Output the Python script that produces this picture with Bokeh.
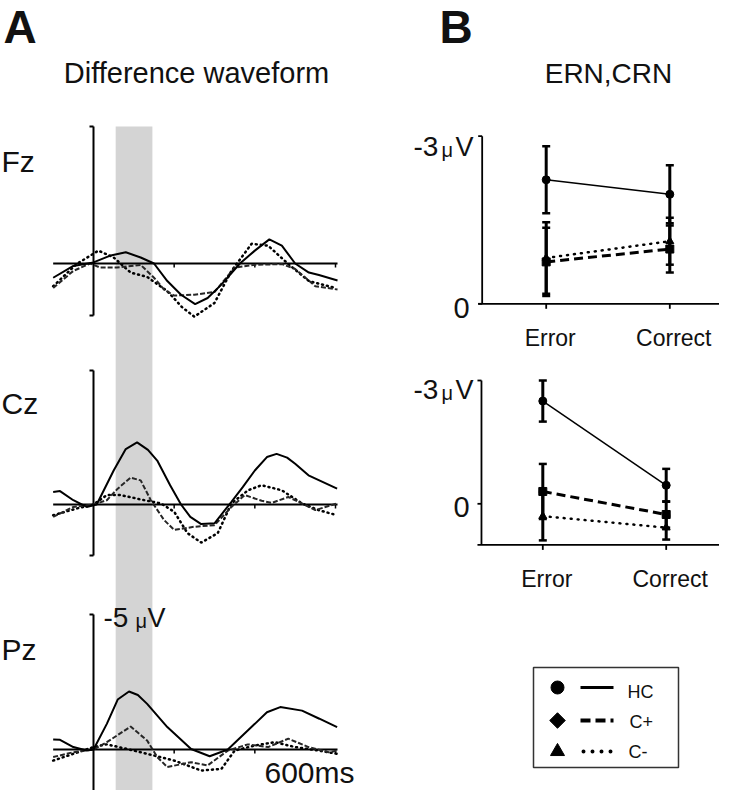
from bokeh.plotting import figure
from bokeh.models import Range1d
from bokeh.core.properties import value
from bokeh.embed import file_html
from bokeh.resources import INLINE
import math

# ---------------- data ----------------
# Panel A: difference waveforms (uV, negative plotted upward), time in ms
fz_hc_t = [-100, -50, 0, 40, 80, 117, 150, 183, 217, 252, 283, 317, 363, 400, 436, 467, 500, 534, 559, 605]
fz_hc_v = [0.52, 0.09, -0.04, -0.28, -0.41, -0.22, 0.0, 0.64, 1.14, 1.48, 1.26, 0.77, 0.0, -0.47, -0.88, -0.65, 0.0, 0.33, 0.42, 0.62]
fz_cp_t = [-100, -50, -8, 17, 58, 117, 150, 175, 200, 250, 300, 350, 400, 467, 500, 550, 605]
fz_cp_v = [0.89, 0.27, 0.0, 0.15, 0.15, 0.05, 0.52, 0.95, 1.17, 1.14, 1.04, 0.15, 0.05, 0.02, 0.2, 0.83, 0.95]
fz_cm_t = [-100, -42, 12, 50, 92, 133, 183, 220, 250, 300, 342, 392, 433, 483, 534, 600]
fz_cm_v = [0.83, 0.02, -0.47, -0.22, 0.33, 0.49, 1.01, 1.6, 1.94, 1.44, 0.27, -0.72, -0.65, 0.02, 0.64, 0.89]

cz_hc_t = [-100, -83, -50, -17, 8, 50, 80, 108, 135, 158, 190, 217, 240, 267, 300, 342, 370, 400, 430, 454, 480, 500, 533, 604]
cz_hc_v = [-0.47, -0.5, -0.16, 0.09, 0.0, -1.27, -2.07, -2.32, -2.04, -1.64, -0.72, 0.0, 0.46, 0.73, 0.70, -0.1, -0.65, -1.27, -1.77, -1.89, -1.75, -1.52, -1.09, -0.59]
cz_cp_t = [-100, -50, 0, 33, 60, 92, 117, 142, 175, 200, 250, 300, 342, 375, 417, 442, 483, 517, 550, 604]
cz_cp_v = [0.46, 0.09, 0.0, -0.16, -0.59, -1.0, -0.9, -0.16, 0.58, 0.95, 0.83, 0.77, 0.09, -0.35, -0.14, -0.06, -0.28, -0.04, 0.21, -0.04]
cz_cm_t = [-100, -42, 0, 33, 67, 117, 167, 200, 233, 267, 308, 342, 383, 417, 467, 517, 558, 604]
cz_cm_v = [0.4, 0.15, 0.0, -0.35, -0.35, -0.19, -0.04, 0.27, 1.07, 1.42, 1.07, -0.04, -0.53, -0.72, -0.53, -0.04, 0.21, 0.4]

pz_hc_t = [-100, -83, -50, -17, 0, 33, 60, 88, 110, 133, 183, 242, 288, 333, 400, 430, 463, 517, 560, 604]
pz_hc_v = [-0.37, -0.36, -0.09, 0.04, 0.0, -0.95, -1.85, -2.15, -2.02, -1.69, -0.83, -0.02, 0.25, 0.0, -0.95, -1.38, -1.57, -1.44, -1.14, -0.83]
pz_cp_t = [-100, -50, 0, 33, 92, 133, 158, 183, 242, 283, 333, 383, 433, 483, 533, 583, 604]
pz_cp_v = [0.28, 0.1, 0.0, -0.27, -0.85, -0.33, 0.28, 0.65, 0.47, 0.59, 0.04, -0.19, -0.09, -0.4, -0.09, 0.1, 0.04]
pz_cm_t = [-100, -50, 0, 33, 83, 133, 200, 267, 317, 350, 400, 450, 500, 558, 604]
pz_cm_v = [0.41, 0.16, -0.09, -0.19, -0.02, 0.16, 0.41, 0.78, 0.72, 0.04, -0.15, -0.27, -0.09, 0.04, 0.16]

band_window = [55, 146]          # ms, shaded ERN window
time_ticks = [200, 400, 600]

# Panel B: mean amplitudes (uV) and error bars
conditions = ["Error", "Correct"]
b_top_hc = [-2.22, -1.96]
b_top_hc_err = [0.60, 0.52]
b_top_cp = [-0.75, -0.98]
b_top_cp_err = [0.61, 0.42]
b_top_cm = [-0.82, -1.12]
b_top_cm_err = [0.64, 0.42]

b_bot_hc = [-2.50, -0.45]
b_bot_hc_err = [0.50, 0.40]
b_bot_cp = [-0.30, 0.26]
b_bot_cp_err = [0.67, 0.32]
b_bot_cm = [0.30, 0.58]
b_bot_cm_err = [0.59, 0.29]

groups = ["HC", "C+", "C-"]

# ---------------- layout helpers ----------------
W, H = 719, 790
FONT = value("Liberation Sans")


def xrange_from(d0, p0, d1, p1):
    s = (d1 - d0) / (p1 - p0)
    return Range1d(d0 - p0 * s, d0 + (W - p0) * s), s


def yrange_from(d0, p0, d1, p1):
    s = (d1 - d0) / (p1 - p0)
    return Range1d(d0 + (H - p0) * s, d0 - p0 * s), s


p = figure(width=W, height=H, output_backend="svg", toolbar_location=None,
           x_range=Range1d(0, W), y_range=Range1d(H, 0),
           x_axis_location=None, y_axis_location=None,
           min_border=0, outline_line_color=None)
p.xgrid.visible = False
p.ygrid.visible = False
p.background_fill_color = "white"
p.border_fill_color = "white"

rt, st = xrange_from(0, 93, 600, 335)
p.extra_x_ranges["t"] = rt
yfz, sfz = yrange_from(0, 263, -5, 126)
ycz, scz = yrange_from(0, 504, -5, 370)
ypz, spz = yrange_from(0, 749, -5, 614)
p.extra_y_ranges["fz"] = yfz
p.extra_y_ranges["cz"] = ycz
p.extra_y_ranges["pz"] = ypz

rb1x, sb1x = xrange_from(0, 545.7, 1, 669.3)
rb2x, sb2x = xrange_from(0, 542.3, 1, 665.7)
rb1y, sb1y = yrange_from(0, 303.3, -3, 135.7)
rb2y, sb2y = yrange_from(0, 503.3, -3, 380.0)
p.extra_x_ranges["b1x"] = rb1x
p.extra_x_ranges["b2x"] = rb2x
p.extra_y_ranges["b1y"] = rb1y
p.extra_y_ranges["b2y"] = rb2y


def txt(X, Y, s, size, align="left", bold=False):
    p.text(x=[X], y=[Y], text=[s], text_font=FONT,
           text_font_size=f"{size}px", text_align=align, text_baseline="middle",
           text_color="#111111", text_font_style="bold" if bold else "normal")


# ---------------- Panel A ----------------
p.quad(left=[band_window[0]], right=[band_window[1]], top=[126], bottom=[790],
       x_range_name="t", fill_color="#d4d4d4", line_color=None)

AX = dict(line_color="black", line_width=2)
panels = [("fz", sfz, fz_hc_t, fz_hc_v, fz_cp_t, fz_cp_v, fz_cm_t, fz_cm_v),
          ("cz", scz, cz_hc_t, cz_hc_v, cz_cp_t, cz_cp_v, cz_cm_t, cz_cm_v),
          ("pz", spz, pz_hc_t, pz_hc_v, pz_cp_t, pz_cp_v, pz_cm_t, pz_cm_v)]
for name, sy, ht, hv, ct, cv, mt, mv in panels:
    ytop, ybot = -5.0, 1.9
    p.segment(x0=[0], y0=[ytop], x1=[0], y1=[ybot], x_range_name="t", y_range_name=name, **AX)
    p.segment(x0=[-4 * st, -4 * st], y0=[ytop, ybot], x1=[0, 0], y1=[ytop, ybot],
              x_range_name="t", y_range_name=name, **AX)
    p.segment(x0=[-100], y0=[0], x1=[605], y1=[0], x_range_name="t", y_range_name=name, **AX)
    p.segment(x0=time_ticks, y0=[0] * 3, x1=time_ticks, y1=[4 * sy] * 3,
              x_range_name="t", y_range_name=name, line_color="black", line_width=1.5)
    p.line(mt, mv, x_range_name="t", y_range_name=name, line_color="black",
           line_width=2.5, line_dash="1 4", line_cap="round")
    p.line(ct, cv, x_range_name="t", y_range_name=name, line_color="#262626",
           line_width=2, line_dash="5 2")
    p.line(ht, hv, x_range_name="t", y_range_name=name, line_color="black", line_width=2)

txt(3, 26, "A", 46, bold=True)
txt(196, 72.5, "Difference waveform", 29, align="center")
txt(1, 161, "Fz", 30)
txt(1, 403, "Cz", 30)
txt(1, 648.5, "Pz", 30)
txt(103, 617, "-5", 28)
txt(135, 620, "\u03bc", 20)
txt(147, 617, "V", 27)
txt(264, 772, "600ms", 30)

# ---------------- Panel B ----------------
txt(439, 26, "B", 46, bold=True)
txt(608, 72.5, "ERN,CRN", 28, align="center")

xs = [0, 1]
specs = [("b1x", "b1y", sb1x, sb1y, -0.518, 1.41, -3, 0, 0,
          (b_top_hc, b_top_hc_err), (b_top_cp, b_top_cp_err), (b_top_cm, b_top_cm_err), 146, 307.5, 337),
         ("b2x", "b2y", sb2x, sb2y, -0.497, 1.44, -3, 1, 0,
          (b_bot_hc, b_bot_hc_err), (b_bot_cp, b_bot_cp_err), (b_bot_cm, b_bot_cm_err), 389, 506.5, 578)]
for xn, yn, sx, sy, xa, xe, ytop, ybase, yzero, hc, cp, cm, Ylab3, Ylab0, Ycat in specs:
    R = dict(x_range_name=xn, y_range_name=yn)
    p.segment(x0=[xa], y0=[ytop], x1=[xa], y1=[ybase], line_color="black", line_width=1.8, **R)
    p.segment(x0=[xa - 4 * sx], y0=[ybase], x1=[xe], y1=[ybase], line_color="black", line_width=1.8, **R)
    p.segment(x0=[xa - 4 * sx, xa - 4 * sx], y0=[ytop, yzero], x1=[xa, xa], y1=[ytop, yzero],
              line_color="black", line_width=1.8, **R)
    p.segment(x0=xs, y0=[ybase] * 2, x1=xs, y1=[ybase + 5 * sy] * 2, line_color="black", line_width=1.8, **R)
    # lines
    p.line(xs, cm[0], line_color="black", line_width=2.5, line_dash="1 6", line_cap="round", **R)
    p.line(xs, cp[0], line_color="black", line_width=3, line_dash="9 5", **R)
    p.line(xs, hc[0], line_color="black", line_width=1.5, **R)
    # error bars
    for vals, errs in (hc, cp, cm):
        lo = [v - e for v, e in zip(vals, errs)]
        hi = [v + e for v, e in zip(vals, errs)]
        p.segment(x0=xs, y0=lo, x1=xs, y1=hi, line_color="black", line_width=3, **R)
        p.scatter(xs + xs, lo + hi, marker="dash", size=8, line_color="black", line_width=2.5, **R)
    p.scatter(xs, hc[0], marker="circle", size=8, fill_color="black", line_color="black", **R)
    p.scatter(xs, cp[0], marker="square", size=8, fill_color="black", line_color="black", **R)
    p.scatter(xs, cm[0], marker="triangle", size=8, fill_color="black", line_color="black", **R)
    # category tick labels, placed under the category positions
    p.text(x=xs, y=[ybase] * 2, text=conditions, x_offset=4, y_offset=Ycat - (303.3 if yn == "b1y" else 544.0),
           text_font=FONT, text_font_size="23px", text_align="center", text_baseline="middle",
           text_color="#111111", **R)
    txt(413, Ylab3, "-3", 28)
    txt(441, Ylab3 + 3, "\u03bc", 20)
    txt(455, Ylab3, "V", 27)
    txt(453, Ylab0, "0", 29)

# ---------------- legend ----------------
p.quad(left=[533], right=[678], top=[667], bottom=[767],
       fill_color="white", line_color="#333333", line_width=1.5)
rows = [687, 720, 751]
p.scatter([557] * 3, rows, marker=["circle", "square", "triangle"],
          size=[13, 11, 14], angle=[0, math.pi / 4, 0], fill_color="black", line_color="black")
p.line([580, 613], [rows[0]] * 2, line_color="black", line_width=3)
p.line([580, 613], [rows[1]] * 2, line_color="black", line_width=4, line_dash="10 5")
p.line([583, 613], [rows[2]] * 2, line_color="black", line_width=4,
       line_dash="0 9", line_cap="round")
for Y, g, X in zip([691, 721, 751.5], groups, [627, 629, 628]):
    txt(X, Y, g, 18)

open("out.html", "w").write(file_html(p, INLINE))
